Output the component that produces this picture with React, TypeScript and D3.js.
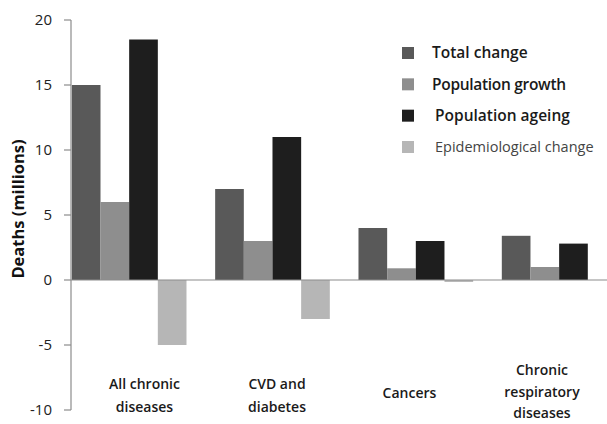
import * as d3 from 'd3';

const categories = ['All chronic diseases', 'CVD and diabetes', 'Cancers', 'Chronic respiratory diseases'];
const categoryLines = [
    ['All chronic', 'diseases'],
    ['CVD and', 'diabetes'],
    ['Cancers'],
    ['Chronic', 'respiratory', 'diseases'],
];
const seriesNames = ['Total change', 'Population growth', 'Population ageing', 'Epidemiological change'];
const totalChange = [15, 7, 4, 3.4];
const populationGrowth = [6, 3, 0.9, 1];
const populationAgeing = [18.5, 11, 3, 2.8];
const epidemiologicalChange = [-5, -3, -0.15, 0];
const yTicks = [-10, -5, 0, 5, 10, 15, 20];

const seriesValues = [totalChange, populationGrowth, populationAgeing, epidemiologicalChange];
const colors = ['#595959', '#8e8e8e', '#1e1e1e', '#b6b6b6'];

const width = 607;
const height = 424;
const font = '"Open Sans", "DejaVu Sans", sans-serif';

export default function App() {
    const y = d3.scaleLinear().domain([-10, 20]).range([410, 20]);
    const x0 = d3
        .scaleBand<string>()
        .domain(categories)
        .range([57.5, 630.8])
        .paddingInner(0.2)
        .paddingOuter(0.1);
    const x1 = d3
        .scaleBand<string>()
        .domain(seriesNames)
        .range([0, x0.bandwidth()]);
    // labels in the source sit a little off the group centres
    const xLabel = d3.scalePoint<string>().domain(categories).range([144.5, 542]);
    const legendY = d3.scalePoint<string>().domain(seriesNames).range([53, 147]);
    const axisX = 71;

    return (
        <svg
            width={width}
            height={height}
            style={{ position: 'absolute', left: 0, top: 0, background: '#fff' }}
            fontFamily={font}
        >
            {seriesNames.map((s, si) =>
                categories.map((c, ci) => {
                    const v = seriesValues[si][ci];
                    return (
                        <rect
                            key={s + c}
                            x={(x0(c) ?? 0) + (x1(s) ?? 0)}
                            y={y(Math.max(0, v))}
                            width={x1.bandwidth()}
                            height={Math.abs(y(v) - y(0))}
                            fill={colors[si]}
                        />
                    );
                })
            )}

            {/* axes */}
            <line x1={axisX} x2={axisX} y1={y(20)} y2={y(-10)} stroke="#8c8c8c" strokeWidth={1.2} />
            <line x1={axisX} x2={width} y1={y(0)} y2={y(0)} stroke="#8c8c8c" strokeWidth={1.2} />
            {yTicks.map((t) => (
                <g key={t}>
                    <line x1={axisX - 7} x2={axisX} y1={y(t)} y2={y(t)} stroke="#8c8c8c" strokeWidth={1.2} />
                    <text x={52} y={y(t)} dy="0.36em" textAnchor="end" fontSize={15} fill="#222">
                        {t}
                    </text>
                </g>
            ))}
            <text
                transform={`translate(24,209) rotate(-90)`}
                textAnchor="middle"
                fontSize={16.5}
                fontWeight={700}
                fill="#111"
            >
                Deaths (millions)
            </text>

            {/* category labels */}
            {categories.map((c, ci) => {
                const lines = categoryLines[ci];
                const top = lines.length === 3 ? 375 : lines.length === 1 ? 398 : 389;
                const step = lines.length === 3 ? 21.5 : 22.5;
                return (
                    <text key={c} textAnchor="middle" fontSize={14} fontWeight={600} fill="#1a1a1a">
                        {lines.map((l, li) => (
                            <tspan key={l} x={xLabel(c)} y={top + li * step}>
                                {l}
                            </tspan>
                        ))}
                    </text>
                );
            })}

            {/* legend */}
            {seriesNames.map((s, si) => (
                <g key={s}>
                    <rect x={402} y={(legendY(s) ?? 0) - 6} width={12} height={12} fill={colors[si]} />
                    <text
                        x={si < 2 ? 432 : 435}
                        y={legendY(s)}
                        dy="0.35em"
                        fontSize={si === 3 ? 14.5 : 15.5}
                        fontWeight={si === 3 ? 400 : 600}
                        fill={si === 3 ? '#444' : '#1a1a1a'}
                        letterSpacing={si === 1 ? -0.3 : 0}
                    >
                        {s}
                    </text>
                </g>
            ))}
        </svg>
    );
}
